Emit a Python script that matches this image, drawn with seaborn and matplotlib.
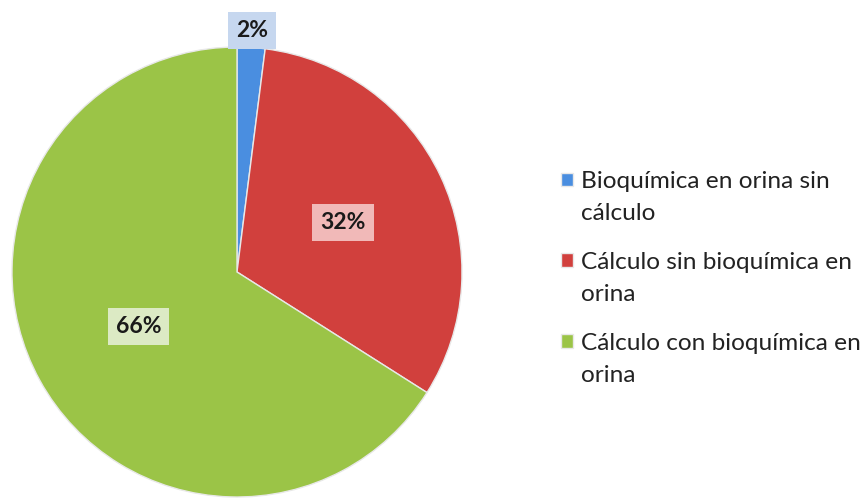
import matplotlib
matplotlib.use("Agg")
import matplotlib.pyplot as plt
import numpy as np
import seaborn as sns

# data
categories = ["Bioquímica en orina sin",
              "Cálculo sin bioquímica en",
              "Cálculo con bioquímica en"]
categories_2nd = ["cálculo", "orina", "orina"]
values = [2, 32, 66]

colours = ["#4a8ee0", "#d1403d", "#9bc447"]
box_colours = ["#c6d7ef", "#f1b9b8", "#dceac4"]
label_dist = [1.075, 0.52, 0.50]

sns.set_theme(style="white")
plt.rcParams["font.family"] = ["Lato", "DejaVu Sans"]

fig = plt.figure(figsize=(8.68, 5), dpi=100)
ax = fig.add_axes([12 / 868, 3 / 500, 450 / 868, 450 / 500])

wedges, _ = ax.pie(values, colors=colours, startangle=90, counterclock=False,
                   radius=1.0,
                   wedgeprops=dict(edgecolor="#e8e8e8", linewidth=1.0))
ax.set_xlim(-1.0, 1.0)
ax.set_ylim(-1.0, 1.0)
ax.set_aspect("equal")

for w, v, d, bc in zip(wedges, values, label_dist, box_colours):
    ang = np.deg2rad((w.theta1 + w.theta2) / 2)
    ax.text(d * np.cos(ang), d * np.sin(ang), f"{v}%", ha="center", va="center",
            fontsize=16.5, fontweight="bold", color="#1a1a1a", clip_on=False,
            bbox=dict(boxstyle="square,pad=0.35", fc=bc, ec="none"))

# legend: first line next to the square, second line hangs below it
leg = fig.legend(wedges, categories, loc="upper left",
                 bbox_to_anchor=(561 / 868, 1 - 171 / 500), frameon=False,
                 borderpad=0, borderaxespad=0,
                 fontsize=17.6, handlelength=0.48, handleheight=0.48,
                 handletextpad=0.33, labelspacing=2.45)
for t in leg.get_texts():
    t.set_color("#222222")

fig.canvas.draw()
for t, second in zip(leg.get_texts(), categories_2nd):
    bb = t.get_window_extent()
    fig.text(bb.x0, bb.y0 - 32, second, transform=None, va="bottom",
             fontsize=17.6, color="#222222")

fig.savefig("out.png", dpi=100)
